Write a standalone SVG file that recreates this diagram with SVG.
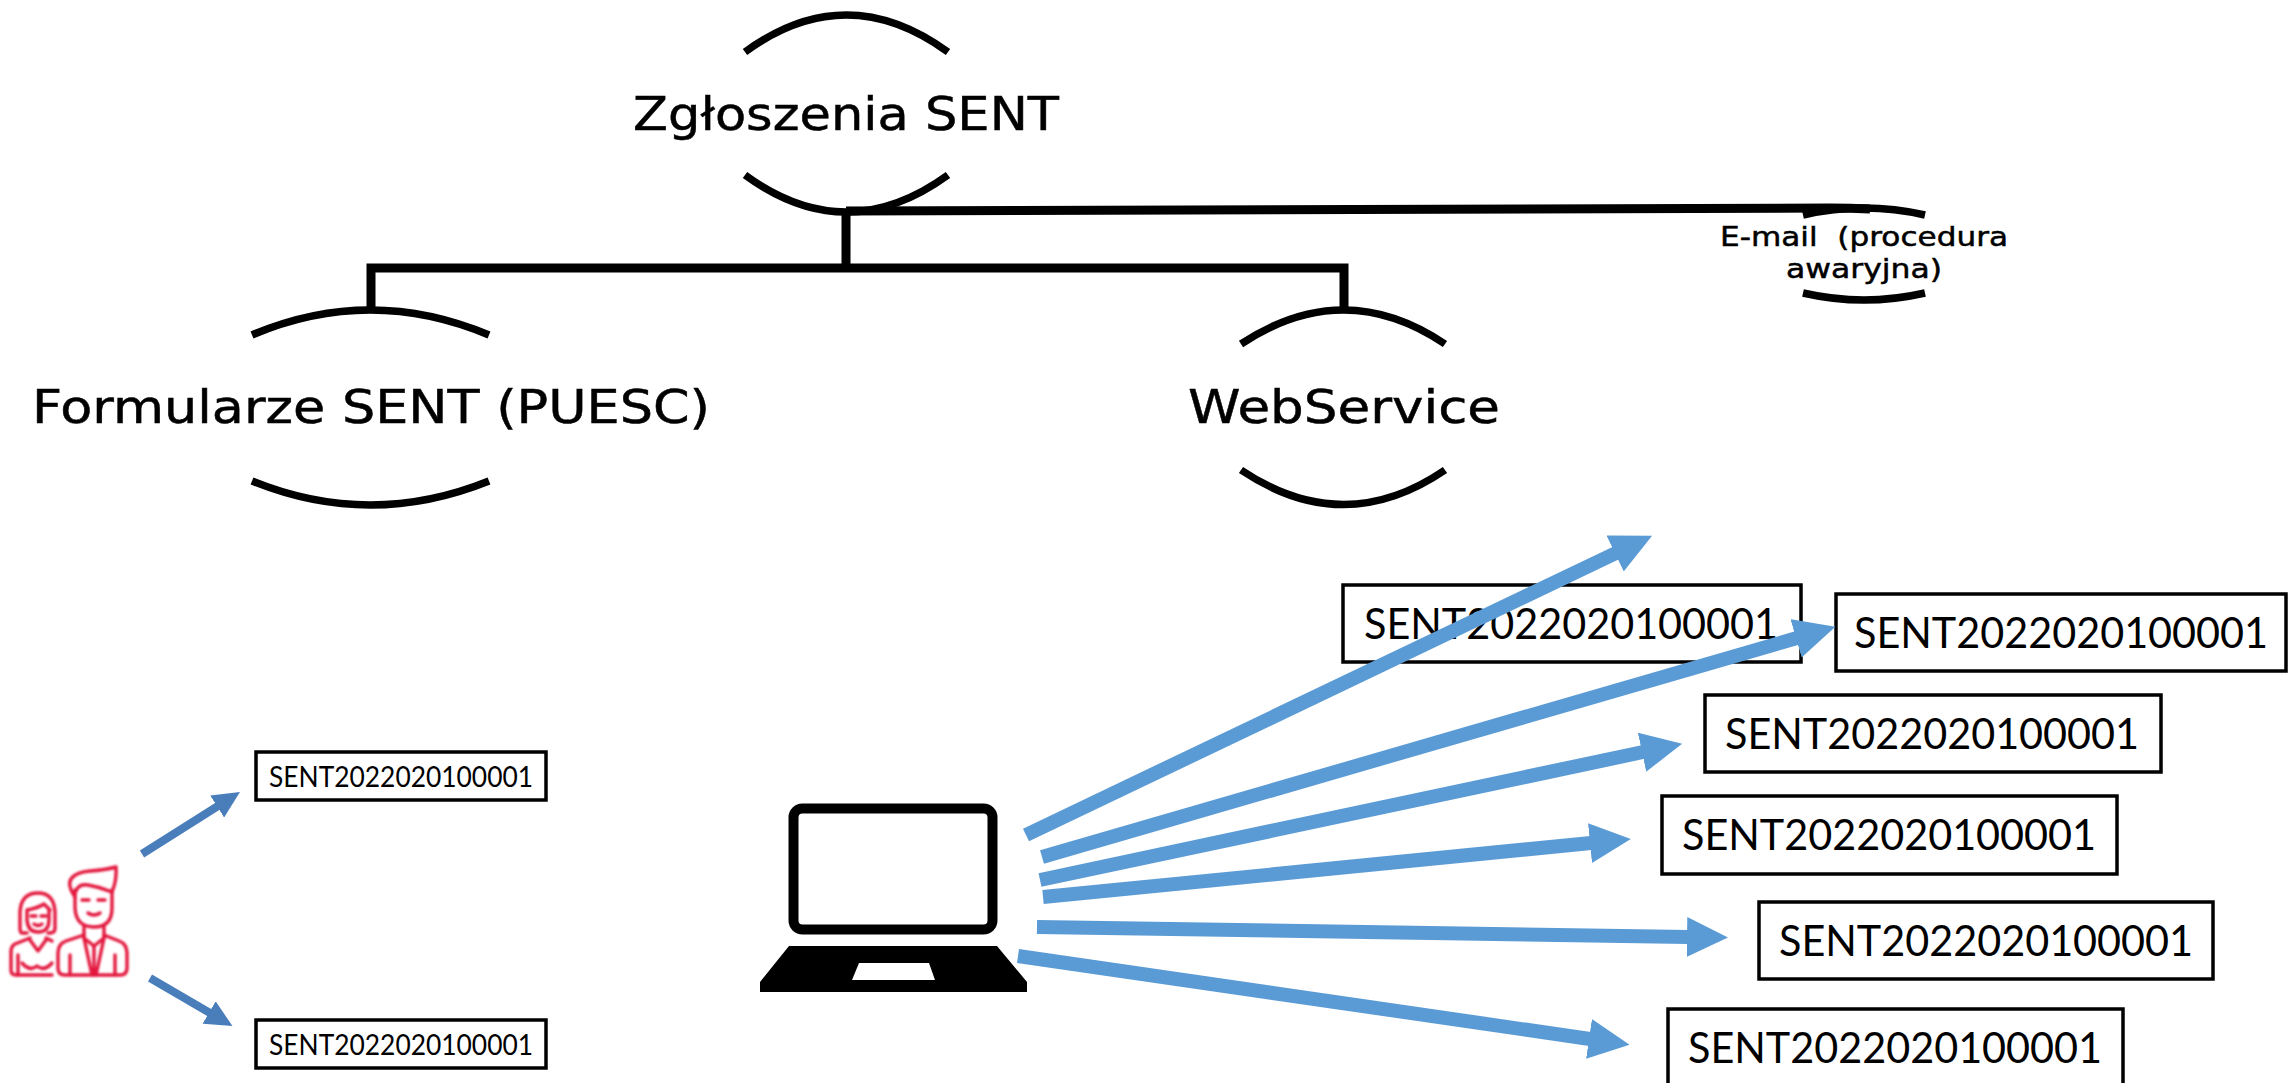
<svg xmlns="http://www.w3.org/2000/svg" width="2288" height="1083" viewBox="0 0 2288 1083">
<style>
.arc{fill:none;stroke:#000;stroke-width:7.500}
.wire{fill:none;stroke:#000;stroke-width:9}
.lbl{font-family:"DejaVu Sans",Verdana,sans-serif;fill:#000;stroke:#000;stroke-width:.5}
.box{fill:#fff;stroke:#000;stroke-width:3.500}
.id{font-family:Lato,"Liberation Sans",sans-serif;fill:#000}
.big{stroke:#5b9bd5;stroke-width:14;fill:none}
.small{stroke:#4a7ebb;stroke-width:8;fill:none}
.ic{fill:none;stroke:#e3173e;stroke-width:3.400;stroke-linejoin:round;stroke-linecap:round}
</style>
<defs>
<marker id="hb" markerUnits="userSpaceOnUse" markerWidth="42" markerHeight="40" refX="1" refY="20" orient="auto"><path d="M0,0L41,20L0,40z" fill="#5b9bd5"/></marker>
<marker id="hs" markerUnits="userSpaceOnUse" markerWidth="28" markerHeight="26" refX="1" refY="13" orient="auto"><path d="M0,0L27,13L0,26z" fill="#4a7ebb"/></marker>
<filter id="soft" x="-10%" y="-10%" width="120%" height="120%"><feGaussianBlur stdDeviation="0.8"/></filter>
</defs>

<g id="node-zgloszenia">
<path class="arc" d="M745,52Q846,-22 948,52"/>
<path class="arc" d="M745,175Q846,249 948,175"/>
<text class="lbl" x="846" y="130" font-size="46" text-anchor="middle" textLength="426" lengthAdjust="spacingAndGlyphs">Zgłoszenia SENT</text>
</g>
<g id="node-formularze">
<path class="arc" d="M252,335Q370,285 489,335"/>
<path class="arc" d="M252,481Q370,529 489,481"/>
<text class="lbl" x="371" y="423" font-size="46" text-anchor="middle" textLength="678" lengthAdjust="spacingAndGlyphs">Formularze SENT (PUESC)</text>
</g>
<g id="node-webservice">
<path class="arc" d="M1241,344Q1344,276 1445,344"/>
<path class="arc" d="M1241,470Q1344,539 1445,470"/>
<text class="lbl" x="1344" y="423" font-size="46" text-anchor="middle" textLength="312" lengthAdjust="spacingAndGlyphs">WebService</text>
</g>
<g id="node-email">
<path class="arc" d="M1803,215Q1864,201 1925,215"/>
<path class="arc" d="M1803,293Q1864,307 1925,293"/>
<text class="lbl" x="1864" y="246" font-size="27" text-anchor="middle" textLength="288" lengthAdjust="spacingAndGlyphs" xml:space="preserve">E-mail  (procedura</text>
<text class="lbl" x="1864" y="278" font-size="27" text-anchor="middle" textLength="156" lengthAdjust="spacingAndGlyphs">awaryjna)</text>
</g>

<g id="node-people" class="ic" filter="url(#soft)">
<path d="M75,897Q67,885 71,879Q76,872 90,871Q105,870 116,867Q117,880 112,892"/>
<path d="M75,890V908Q76,927 94,927Q112,927 112,908V890"/>
<path d="M75,893Q78,883 88,885Q100,887 112,892"/>
<path d="M82,900h7M98,900h7M88,913Q94,917 100,913"/>
<path d="M84,927V938L94,946L104,938V927"/>
<path d="M84,935L66,941Q58,944 58,953V968Q58,975 65,975H120Q127,975 127,968V953Q127,944 119,941L104,935"/>
<path d="M84,938L92,975M104,938L96,975M94,946V975M70,955V975M115,955V975"/>
<path d="M27,933H22Q20,933 20,928V912Q21,893 38,893Q54,893 55,912V928Q55,933 50,933H48"/>
<path d="M27,910Q38,908 44,904Q48,908 50,910M27,910V920Q28,932 38,932Q49,932 49,920V910"/>
<path d="M31,916h5M41,916h5M34,924Q38,927 42,924"/>
<path d="M30,938L15,944Q11,946 11,952V970Q11,975 16,975H52M46,938L52,941M30,940L38,951L46,940"/>
<path d="M18,955V975M22,963Q30,972 37,966Q44,972 52,963"/>
</g>

<g id="node-laptop">
<rect x="793.500" y="808.500" width="199" height="121" rx="9" fill="none" stroke="#000" stroke-width="10"/>
<path fill-rule="evenodd" d="M789,946H997L1027,982V992H760V982ZM859,963L852,980H935L929,963Z" fill="#000"/>
</g>

<g id="node-id-left-1"><rect class="box" x="256" y="752" width="290" height="48"/><text class="id" x="401" y="787" font-size="29" text-anchor="middle" textLength="264" lengthAdjust="spacingAndGlyphs">SENT2022020100001</text></g>
<g id="node-id-left-2"><rect class="box" x="256" y="1020" width="290" height="48"/><text class="id" x="401" y="1055" font-size="29" text-anchor="middle" textLength="264" lengthAdjust="spacingAndGlyphs">SENT2022020100001</text></g>
<g id="node-id-a"><rect class="box" x="1343" y="585" width="458" height="77"/><text class="id" x="1571" y="639" font-size="43" text-anchor="middle" textLength="414" lengthAdjust="spacingAndGlyphs">SENT2022020100001</text></g>
<g id="node-id-b"><rect class="box" x="1836" y="594" width="450" height="77"/><text class="id" x="2061" y="648" font-size="43" text-anchor="middle" textLength="414" lengthAdjust="spacingAndGlyphs">SENT2022020100001</text></g>
<g id="node-id-c"><rect class="box" x="1705" y="695" width="456" height="77"/><text class="id" x="1932" y="749" font-size="43" text-anchor="middle" textLength="414" lengthAdjust="spacingAndGlyphs">SENT2022020100001</text></g>
<g id="node-id-d"><rect class="box" x="1662" y="796" width="455" height="78"/><text class="id" x="1889" y="850" font-size="43" text-anchor="middle" textLength="414" lengthAdjust="spacingAndGlyphs">SENT2022020100001</text></g>
<g id="node-id-e"><rect class="box" x="1759" y="902" width="454" height="77"/><text class="id" x="1986" y="956" font-size="43" text-anchor="middle" textLength="414" lengthAdjust="spacingAndGlyphs">SENT2022020100001</text></g>
<g id="node-id-f"><rect class="box" x="1668" y="1009" width="455" height="77"/><text class="id" x="1895" y="1063" font-size="43" text-anchor="middle" textLength="414" lengthAdjust="spacingAndGlyphs">SENT2022020100001</text></g>

<g id="connectors">
<path class="wire" d="M846,212V268M371,308V268H1344V308"/>
<path class="wire" d="M846,211L1830,208Q1850,208 1870,209"/>
<path class="big" marker-end="url(#hb)" d="M1026,835L1616,553"/>
<path class="big" marker-end="url(#hb)" d="M1042,857L1797,638"/>
<path class="big" marker-end="url(#hb)" d="M1040,880L1643,752"/>
<path class="big" marker-end="url(#hb)" d="M1043,897L1591,843"/>
<path class="big" marker-end="url(#hb)" d="M1037,927L1688,937"/>
<path class="big" marker-end="url(#hb)" d="M1018,956L1590,1039"/>
<path class="small" marker-end="url(#hs)" d="M142,854L218,806"/>
<path class="small" marker-end="url(#hs)" d="M150,978L210,1013"/>
</g>
</svg>
